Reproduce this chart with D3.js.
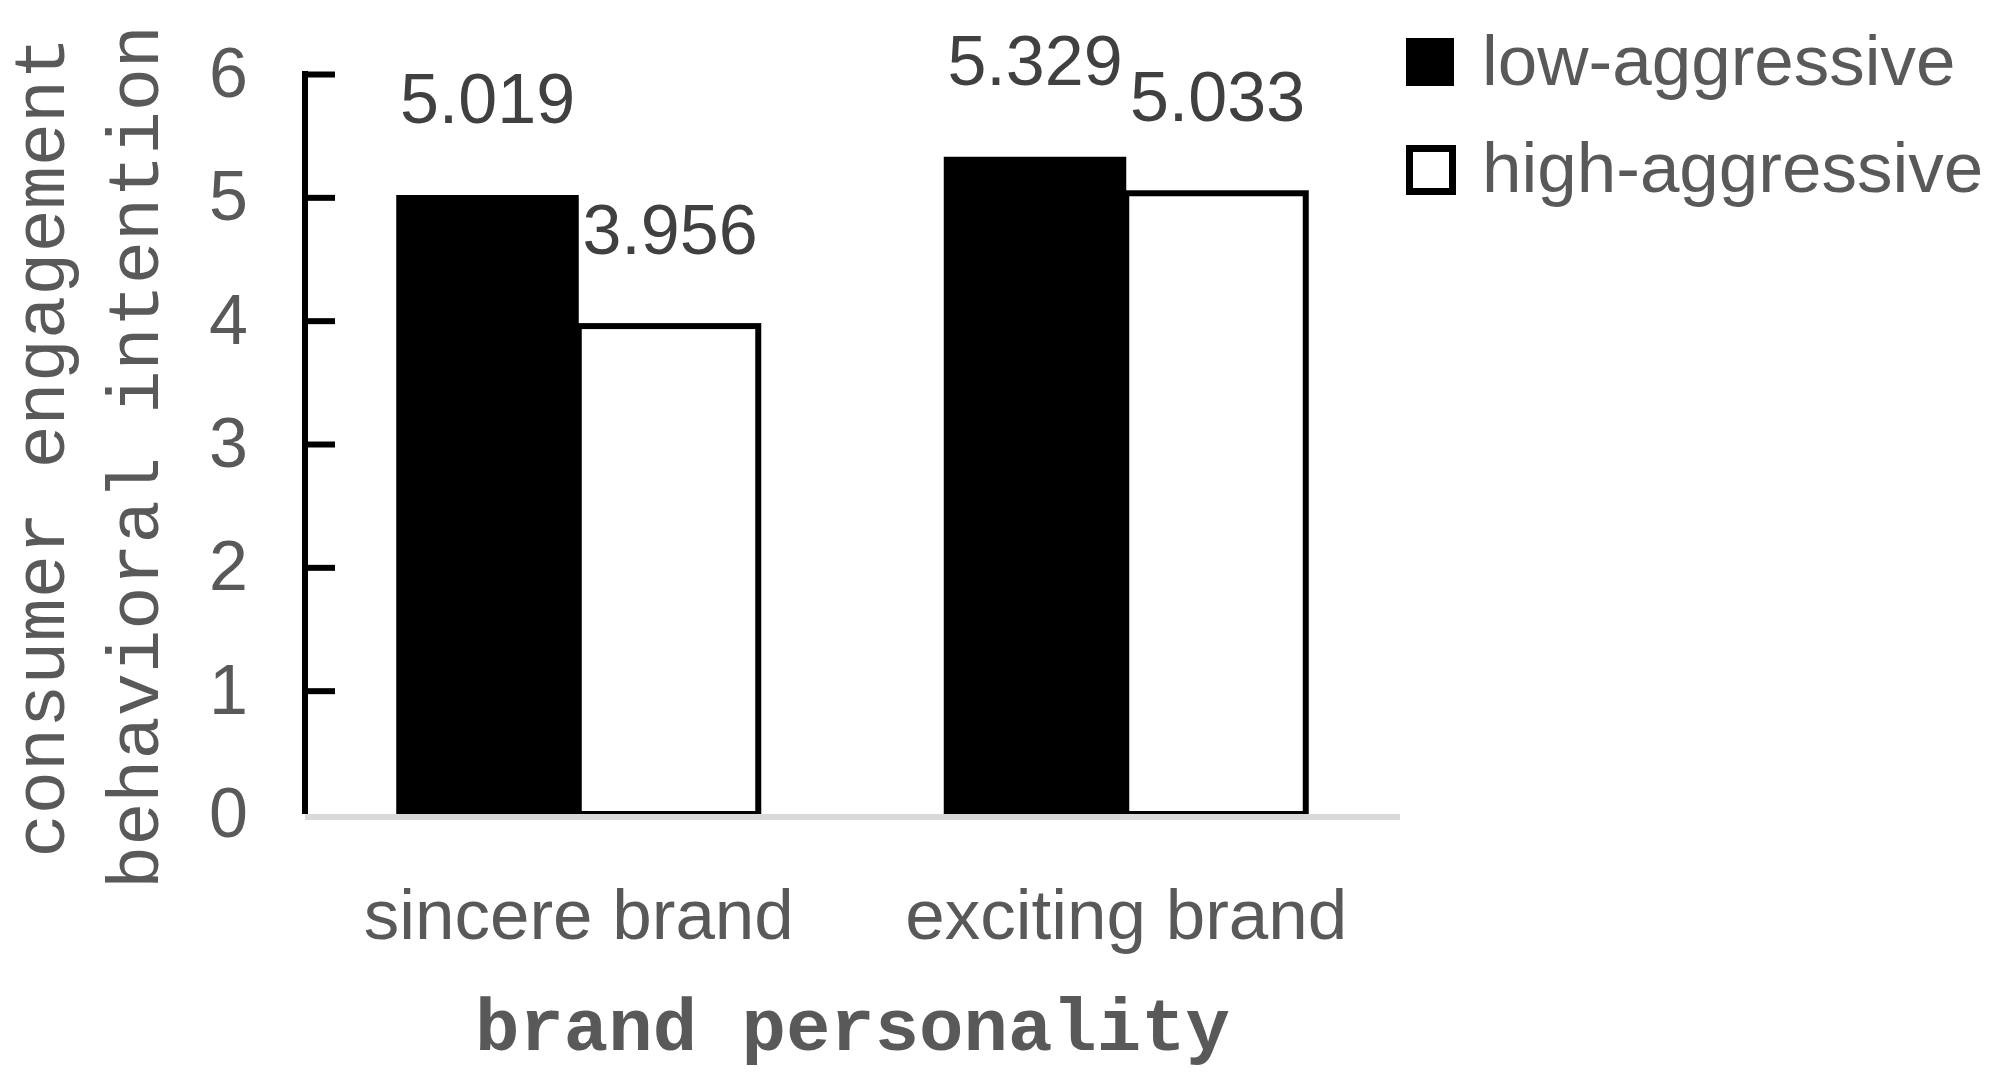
<!DOCTYPE html>
<html>
<head>
<meta charset="utf-8">
<script src="https://cdn.jsdelivr.net/npm/d3@7"></script>
<style>
  html, body { margin: 0; padding: 0; background: #fff; }
  svg { display: block; }
</style>
</head>
<body>
<svg id="chart" width="1995" height="1082"></svg>
<script>
const categories = ["sincere brand", "exciting brand"];
const seriesNames = ["low-aggressive", "high-aggressive"];
const lowValues = [5.019, 5.329];
const highValues = [3.956, 5.033];
const yTickValues = [0, 1, 2, 3, 4, 5, 6];

const rows = categories.map((c, i) => ({
  category: c,
  values: [
    { series: seriesNames[0], value: lowValues[i] },
    { series: seriesNames[1], value: highValues[i] }
  ]
}));

const svg = d3.select("#chart");
const plotLeft = 305, plotRight = 1400, plotTop = 74, plotBottom = 814;

svg.append("rect").attr("width", 1995).attr("height", 1082).attr("fill", "#fff");

const x0 = d3.scaleBand().domain(categories).range([plotLeft, plotRight]);
const x1 = d3.scaleBand().domain(seriesNames).range([0, x0.bandwidth()]).paddingOuter(0.5);
const y = d3.scaleLinear().domain([0, 6]).range([plotBottom, plotTop]);

const sansFont = "'Liberation Sans', Arial, sans-serif";
const monoFont = "'Liberation Mono', 'DejaVu Sans Mono', monospace";

// bars
const groups = svg.append("g")
  .selectAll("g")
  .data(rows)
  .enter()
  .append("g")
  .attr("transform", d => `translate(${x0(d.category)},0)`);

groups.selectAll("rect")
  .data(d => d.values)
  .enter()
  .append("rect")
  .attr("x", d => x1(d.series))
  .attr("y", d => y(d.value))
  .attr("width", d => d.series === seriesNames[0] ? x1.bandwidth() : x1.bandwidth() - 3)
  .attr("height", d => y(0) - y(d.value))
  .attr("fill", d => d.series === seriesNames[0] ? "#000" : "#fff")
  .attr("stroke", d => d.series === seriesNames[0] ? "none" : "#000")
  .attr("stroke-width", 6);

// value labels
groups.selectAll("text")
  .data(d => d.values)
  .enter()
  .append("text")
  .text(d => d.value.toFixed(3))
  .attr("x", d => x1(d.series) + x1.bandwidth() / 2)
  .attr("y", d => y(d.value) - 72)
  .attr("text-anchor", "middle")
  .attr("font-family", sansFont)
  .attr("font-size", 70)
  .attr("fill", "#404040");

// x baseline (grey)
svg.append("line")
  .attr("x1", plotLeft).attr("x2", plotRight)
  .attr("y1", plotBottom + 3).attr("y2", plotBottom + 3)
  .attr("stroke", "#d9d9d9")
  .attr("stroke-width", 6);

// y axis with inside ticks
const yAxis = svg.append("g")
  .attr("transform", `translate(${plotLeft},0)`)
  .call(d3.axisLeft(y).tickValues(yTickValues).tickSize(-30).tickPadding(57).tickFormat(d3.format("d")));

yAxis.select(".domain").remove();
yAxis.selectAll(".tick line")
  .attr("stroke", "#000")
  .attr("stroke-width", 6)
  .attr("display", d => d === 0 ? "none" : null);
yAxis.selectAll(".tick text")
  .attr("font-family", sansFont)
  .attr("font-size", 70)
  .attr("fill", "#595959");

svg.append("line")
  .attr("x1", plotLeft).attr("x2", plotLeft)
  .attr("y1", y(6) - 3).attr("y2", y(0))
  .attr("stroke", "#000")
  .attr("stroke-width", 6);

// x axis category labels
svg.append("g")
  .selectAll("text")
  .data(categories)
  .enter()
  .append("text")
  .text(d => d)
  .attr("x", d => x0(d) + x0.bandwidth() / 2)
  .attr("y", 939)
  .attr("text-anchor", "middle")
  .attr("font-family", sansFont)
  .attr("font-size", 71)
  .attr("fill", "#595959");

// axis titles
svg.append("text")
  .text("brand personality")
  .attr("x", (plotLeft + plotRight) / 2)
  .attr("y", 1050)
  .attr("text-anchor", "middle")
  .attr("font-family", monoFont)
  .attr("font-weight", "bold")
  .attr("font-size", 74)
  .attr("fill", "#595959");

const yTitleLines = [
  { text: "consumer engagement", x: 64, cy: 447, size: 72 },
  { text: "behavioral intention", x: 158, cy: 457, size: 72 }
];
svg.append("g")
  .selectAll("text")
  .data(yTitleLines)
  .enter()
  .append("text")
  .text(d => d.text)
  .attr("transform", d => `translate(${d.x},${d.cy}) rotate(-90)`)
  .attr("text-anchor", "middle")
  .attr("font-family", monoFont)
  .attr("font-size", d => d.size)
  .attr("fill", "#595959");

// legend
const legend = svg.append("g")
  .selectAll("g")
  .data(seriesNames)
  .enter()
  .append("g")
  .attr("transform", (d, i) => `translate(1406,${38 + i * 107})`);

legend.append("rect")
  .attr("x", d => d === seriesNames[0] ? 0 : 3.5)
  .attr("y", d => d === seriesNames[0] ? 0 : 3.5)
  .attr("width", d => d === seriesNames[0] ? 48 : 43)
  .attr("height", d => d === seriesNames[0] ? 48 : 43)
  .attr("fill", d => d === seriesNames[0] ? "#000" : "#fff")
  .attr("stroke", d => d === seriesNames[0] ? "none" : "#000")
  .attr("stroke-width", 7);

legend.append("text")
  .text(d => d)
  .attr("x", 76)
  .attr("y", 47)
  .attr("font-family", sansFont)
  .attr("font-size", 71)
  .attr("fill", "#595959");
</script>
</body>
</html>
